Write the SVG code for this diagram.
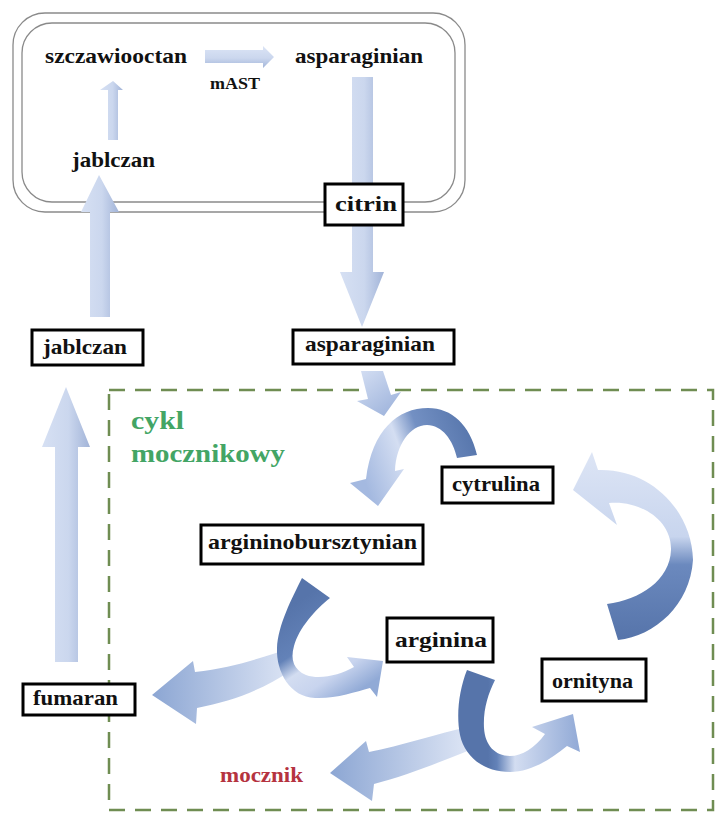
<svg xmlns="http://www.w3.org/2000/svg" width="717" height="814" viewBox="0 0 717 814">
<defs>
<style>
.lbl{font-family:"Liberation Serif","Times New Roman",serif;font-weight:bold;fill:#111;}
.box{fill:#fff;stroke:#000;stroke-width:3;}
.rr{fill:none;stroke:#8a8a8a;stroke-width:1.3;}
.dash{fill:none;stroke:#6f8d52;stroke-width:2.5;stroke-dasharray:16 10;}
</style>
<linearGradient id="gv" x1="0" y1="0" x2="1" y2="0">
<stop offset="0" stop-color="#d6e0f3"/><stop offset="0.55" stop-color="#cbd7ee"/><stop offset="1" stop-color="#a2b4d8"/>
</linearGradient>
<linearGradient id="gh" x1="0" y1="0" x2="0" y2="1">
<stop offset="0" stop-color="#dbe4f5"/><stop offset="0.55" stop-color="#cbd7ee"/><stop offset="1" stop-color="#a2b4d8"/>
</linearGradient>
<linearGradient id="gs" gradientUnits="userSpaceOnUse" x1="360" y1="372" x2="392" y2="414">
<stop offset="0" stop-color="#d2ddf2"/><stop offset="1" stop-color="#9fb4dc"/>
</linearGradient>
<linearGradient id="gA1" gradientUnits="userSpaceOnUse" x1="477" y1="450" x2="368" y2="490">
<stop offset="0" stop-color="#5877ad"/><stop offset="0.42" stop-color="#7390c3"/><stop offset="0.62" stop-color="#d4def2"/><stop offset="1" stop-color="#a4b9e0"/>
</linearGradient>
<linearGradient id="gA2" gradientUnits="userSpaceOnUse" x1="0" y1="640" x2="0" y2="452">
<stop offset="0" stop-color="#5674aa"/><stop offset="0.4" stop-color="#6b89be"/><stop offset="0.55" stop-color="#c8d5ee"/><stop offset="1" stop-color="#dde5f5"/>
</linearGradient>
<linearGradient id="gJ1" gradientUnits="userSpaceOnUse" x1="300" y1="600" x2="360" y2="690">
<stop offset="0" stop-color="#5674aa"/><stop offset="0.38" stop-color="#6382b8"/><stop offset="0.55" stop-color="#d3ddf1"/><stop offset="0.75" stop-color="#c8d4ee"/><stop offset="1" stop-color="#91aad6"/>
</linearGradient>
<linearGradient id="gB1" gradientUnits="userSpaceOnUse" x1="292" y1="0" x2="152" y2="0">
<stop offset="0" stop-color="#dde5f5"/><stop offset="1" stop-color="#8ca6d3"/>
</linearGradient>
<linearGradient id="gJ2" gradientUnits="userSpaceOnUse" x1="488" y1="0" x2="578" y2="0">
<stop offset="0" stop-color="#5674aa"/><stop offset="0.1" stop-color="#6382b8"/><stop offset="0.3" stop-color="#d3ddf1"/><stop offset="1" stop-color="#93abd7"/>
</linearGradient>
<linearGradient id="gB2" gradientUnits="userSpaceOnUse" x1="468" y1="0" x2="330" y2="0">
<stop offset="0" stop-color="#dde5f5"/><stop offset="1" stop-color="#8ca6d3"/>
</linearGradient>
</defs>
<rect width="717" height="814" fill="#fff"/>

<g id="mitochondrion">
<rect class="rr" x="13" y="13" width="452" height="199" rx="32"/>
<rect class="rr" x="22" y="23" width="433" height="179" rx="30"/>
</g>
<g id="urea-cycle-region">
<rect class="dash" x="109" y="390" width="604" height="420"/>
<text x="131" y="429" font-family="Liberation Serif, serif" font-weight="bold" font-size="26" fill="#43a565" textLength="53" lengthAdjust="spacingAndGlyphs">cykl</text>
<text x="131" y="462" font-family="Liberation Serif, serif" font-weight="bold" font-size="26" fill="#43a565" textLength="154" lengthAdjust="spacingAndGlyphs">mocznikowy</text>
</g>

<g id="connectors">
<path fill="url(#gv)" d="M108,140 L108,90 L100,90 L113,81 L123,90 L118,90 L118,140 Z"/>
<path fill="url(#gh)" d="M205,50 L263,50 L263,46 L274,57 L263,68 L263,63 L205,63 Z"/>
<path fill="url(#gv)" d="M352,77 L373,77 L373,272 L384,272 L362,327 L340,272 L352,272 Z"/>
<path fill="url(#gv)" d="M90,317 L90,212 L81,212 L99,175 L119,212 L110,212 L110,317 Z"/>
<path fill="url(#gv)" d="M55,662 L55,447 L42,447 L66,387 L90,447 L78,447 L78,662 Z"/>
<path fill="url(#gs)" d="M361,371 L383,371 L391,395 L401,392 L384,416 L357,401 L368,399 Z"/>
<path fill="url(#gA1)" d="M477,455 C470,425 452,408 428,408 C398,408 372,430 366,479 L350,483 L378,506 L404,469 L395,471 C396,445 410,425 427,425 C442,425 453,440 457,458 Z"/>
<path fill="url(#gA2)" d="M618,640 C655,636 690,605 693,560 C692,510 650,468 598,470 L592,452 L573,490 L617,525 L609,503 C640,500 672,520 671,550 C670,580 640,600 607,604 Z"/>
<path fill="url(#gB1)" d="M292,648 C265,656 235,668 195,672 L193,661 L152,695 L196,724 L197,708 C233,701 262,690 292,670 Z"/>
<path fill="url(#gJ1)" d="M302,578 C292,598 278,625 277,648 C276,672 290,697 315,698 C335,699 355,692 370,688 L377,697 L383,661 L347,657 L354,667 C340,675 320,680 306,675 C294,670 290,660 294,646 C299,628 315,610 330,598 Z"/>
<path fill="url(#gB2)" d="M468,727 C440,733 400,746 369,752 L366,741 L330,773 L372,801 L374,784 C405,776 440,762 470,750 Z"/>
<path fill="url(#gJ2)" d="M467,670 C459,690 456,715 460,735 C465,758 485,772 510,772 C530,772 550,760 567,746 L580,752 L573,714 L532,727 L545,734 C535,748 522,756 510,756 C495,756 485,745 484,728 C483,710 488,694 495,680 Z"/>
</g>

<g id="szczawiooctan"><text class="lbl" x="45" y="63" font-size="21" textLength="142" lengthAdjust="spacingAndGlyphs">szczawiooctan</text></g>
<g id="asparaginian-mito"><text class="lbl" x="295" y="63" font-size="21" textLength="128" lengthAdjust="spacingAndGlyphs">asparaginian</text></g>
<g id="mAST"><text class="lbl" x="210" y="89" font-size="17" textLength="50" lengthAdjust="spacingAndGlyphs">mAST</text></g>
<g id="jablczan-mito"><text class="lbl" x="72" y="167" font-size="21" textLength="83" lengthAdjust="spacingAndGlyphs">jablczan</text></g>
<g id="citrin"><rect class="box" x="325" y="184" width="78" height="41"/><text class="lbl" x="335" y="211" font-size="21" textLength="62" lengthAdjust="spacingAndGlyphs">citrin</text></g>
<g id="jablczan"><rect class="box" x="32" y="330" width="111" height="35"/><text class="lbl" x="43" y="354" font-size="21" textLength="84" lengthAdjust="spacingAndGlyphs">jablczan</text></g>
<g id="asparaginian"><rect class="box" x="293" y="330" width="161" height="34"/><text class="lbl" x="305" y="351" font-size="21" textLength="130" lengthAdjust="spacingAndGlyphs">asparaginian</text></g>
<g id="cytrulina"><rect class="box" x="442" y="467" width="111" height="36"/><text class="lbl" x="452" y="491" font-size="21" textLength="88" lengthAdjust="spacingAndGlyphs">cytrulina</text></g>
<g id="argininobursztynian"><rect class="box" x="201" y="525" width="222" height="39"/><text class="lbl" x="208" y="549" font-size="21" textLength="209" lengthAdjust="spacingAndGlyphs">argininobursztynian</text></g>
<g id="arginina"><rect class="box" x="387" y="618" width="106" height="44"/><text class="lbl" x="395" y="647" font-size="21" textLength="92" lengthAdjust="spacingAndGlyphs">arginina</text></g>
<g id="ornityna"><rect class="box" x="542" y="659" width="104" height="42"/><text class="lbl" x="552" y="688" font-size="21" textLength="81" lengthAdjust="spacingAndGlyphs">ornityna</text></g>
<g id="fumaran"><rect class="box" x="23" y="684" width="112" height="31"/><text class="lbl" x="33" y="705" font-size="21" textLength="85" lengthAdjust="spacingAndGlyphs">fumaran</text></g>
<g id="mocznik"><text x="220" y="782" font-family="Liberation Serif, serif" font-weight="bold" font-size="21" fill="#b5333f" textLength="83" lengthAdjust="spacingAndGlyphs">mocznik</text></g>
</svg>
